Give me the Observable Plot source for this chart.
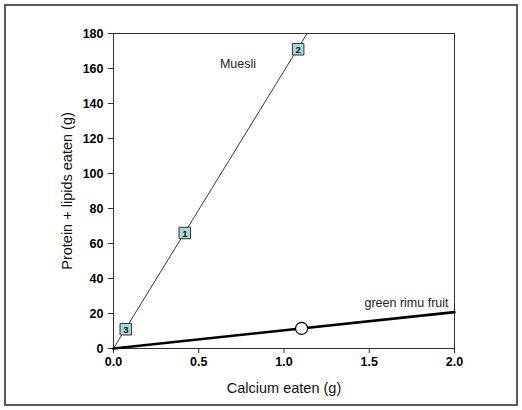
<!DOCTYPE html>
<html><head><meta charset="utf-8">
<script src="https://cdn.jsdelivr.net/npm/d3@7"></script>
<script src="https://cdn.jsdelivr.net/npm/@observablehq/plot@0.6"></script>
<style>
body{margin:0;background:#fff;}
#chart svg{display:block;outline:2px solid #5a5a5a;outline-offset:-6px;}
</style></head>
<body><div id="chart"></div>
<script>
// Muesli line and numbered points
const muesliLineX = [0, 1.135];
const muesliLineY = [0, 180];
const muesliPointX = [0.418, 1.083, 0.072];
const muesliPointY = [66, 171, 11];
const muesliPointLabel = ["1", "2", "3"];
// Green rimu fruit line and point
const rimuLineX = [0, 2.0];
const rimuLineY = [0, 20.8];
const rimuPointX = [1.103];
const rimuPointY = [11.5];
// Axis ticks
const xTicks = [0, 0.5, 1.0, 1.5, 2.0];
const yTicks = [0, 20, 40, 60, 80, 100, 120, 140, 160, 180];

const muesliLine = muesliLineX.map((x, i) => ({x, y: muesliLineY[i]}));
const rimuLine = rimuLineX.map((x, i) => ({x, y: rimuLineY[i]}));
const muesliPts = muesliPointX.map((x, i) => ({x, y: muesliPointY[i], label: muesliPointLabel[i]}));
const rimuPts = rimuPointX.map((x, i) => ({x, y: rimuPointY[i]}));

const chart = Plot.plot({
  width: 522, height: 410,
  marginLeft: 113, marginRight: 68, marginTop: 33, marginBottom: 62,
  style: {fontFamily: "Liberation Sans, Arial, sans-serif", background: "#fff", color: "#000"},
  x: {domain: [0, 2], ticks: xTicks, tickFormat: d3.format(".1f")},
  y: {domain: [0, 180], ticks: yTicks},
  marks: [
    Plot.frame({stroke: "#333", strokeWidth: 1}),
    Plot.axisX({ticks: xTicks, tickFormat: d3.format(".1f"), tickSize: 5, tickPadding: 4,
      fontWeight: "bold", fontSize: 12.5, label: "Calcium eaten (g)", labelAnchor: "center",
      labelArrow: "none", labelOffset: 44, stroke: "#333"}),
    Plot.axisY({ticks: yTicks, tickSize: 5, tickPadding: 5,
      fontWeight: "bold", fontSize: 12.5, label: "Protein + lipids eaten (g)", labelAnchor: "center",
      labelArrow: "none", labelOffset: 52, stroke: "#333"}),
    Plot.line(muesliLine, {x: "x", y: "y", stroke: "#222", strokeWidth: 0.9, clip: true}),
    Plot.line(rimuLine, {x: "x", y: "y", stroke: "#000", strokeWidth: 2.6}),
    Plot.dot(muesliPts, {x: "x", y: "y", symbol: "square", r: 6.5, fill: "#a8d7db", stroke: "#333", strokeWidth: 1}),
    Plot.text(muesliPts, {x: "x", y: "y", text: "label", fontSize: 9.5, fontWeight: "bold", fill: "#111", dy: 0.5}),
    Plot.dot(rimuPts, {x: "x", y: "y", r: 6, fill: "#fff", stroke: "#000", strokeWidth: 1.2}),
    Plot.text([{x: 0.73, y: 162.5, t: "Muesli"}], {x: "x", y: "y", text: "t", fontSize: 12.5, textAnchor: "middle", fill: "#222"}),
    Plot.text([{x: 1.965, y: 26, t: "green rimu fruit"}], {x: "x", y: "y", text: "t", fontSize: 12.5, textAnchor: "end", fill: "#222"})
  ]
});
document.getElementById("chart").appendChild(chart);
// axis titles: normal weight, larger
d3.select(chart).selectAll('[aria-label="x-axis label"], [aria-label="y-axis label"]')
  .attr("font-weight", "normal").attr("font-size", 14.5).attr("fill", "#111");
</script>
</body></html>
